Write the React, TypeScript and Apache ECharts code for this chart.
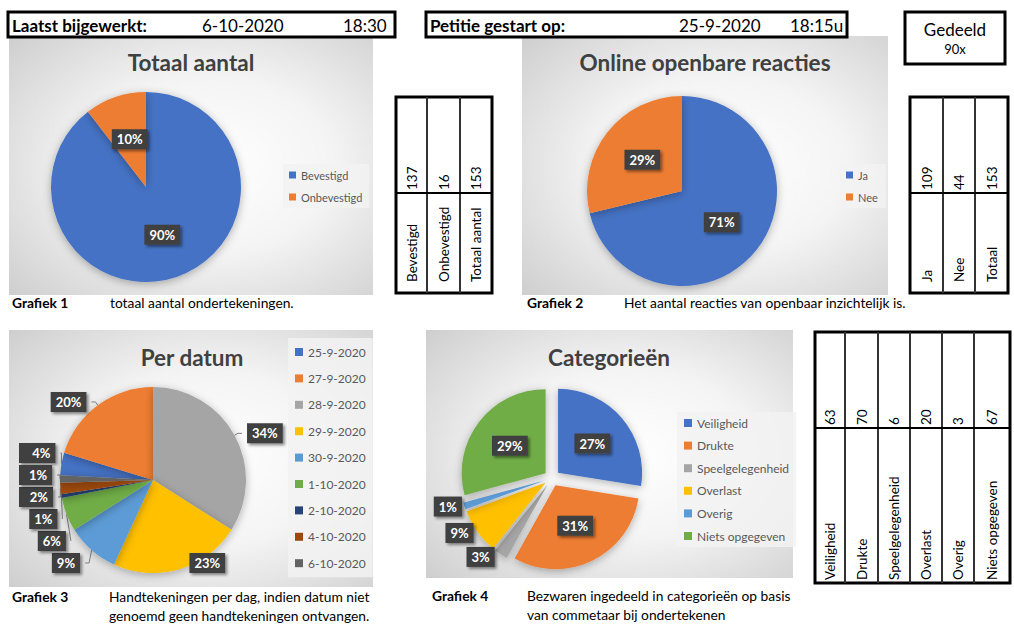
import React, { useEffect, useRef } from "react";
import * as echarts from "echarts";

const FONT = "Lato, 'Open Sans', sans-serif";

// ---- header texts ----
const updatedLabel = "Laatst bijgewerkt:";
const updatedDate = "6-10-2020";
const updatedTime = "18:30";
const startedLabel = "Petitie gestart op:";
const startedDate = "25-9-2020";
const startedTime = "18:15u";
const sharedLabel = "Gedeeld";
const sharedValue = "90x";

// ---- chart data ----
const totalNames = ["Bevestigd", "Onbevestigd"];
const totalValues = [137, 16];

const publicNames = ["Ja", "Nee"];
const publicValues = [109, 44];

const dateNames = [
  "25-9-2020", "27-9-2020", "28-9-2020", "29-9-2020", "30-9-2020",
  "1-10-2020", "2-10-2020", "4-10-2020", "6-10-2020",
];
const dateValues = [6, 31, 52, 35, 14, 9, 1, 3, 2];

const categoryNames = ["Veiligheid", "Drukte", "Speelgelegenheid", "Overlast", "Overig", "Niets opgegeven"];
const categoryValues = [63, 70, 6, 20, 3, 67];

// ---- tables ----
const table1Labels = ["Bevestigd", "Onbevestigd", "Totaal aantal"];
const table1Values = [137, 16, 153];
const table2Labels = ["Ja", "Nee", "Totaal"];
const table2Values = [109, 44, 153];
const table3Labels = categoryNames;
const table3Values = categoryValues;

// ---- titles & captions ----
const chartTitles = ["Totaal aantal", "Online openbare reacties", "Per datum", "Categorieën"];
const captionHeads = ["Grafiek 1", "Grafiek 2", "Grafiek 3", "Grafiek 4"];
const captionTexts = [
  ["totaal aantal ondertekeningen."],
  ["Het aantal reacties van openbaar inzichtelijk is."],
  ["Handtekeningen per dag, indien datum niet", "genoemd geen handtekeningen ontvangen."],
  ["Bezwaren ingedeeld in categorieën op basis", "van commetaar bij ondertekenen"],
];

const palette = ["#4472C4", "#ED7D31", "#A5A5A5", "#FFC000", "#5B9BD5", "#70AD47", "#264478", "#9E480E", "#636363"];

const bgFill = {
  type: "radial",
  x: 0.55,
  y: 0.5,
  r: 0.85,
  colorStops: [
    { offset: 0, color: "#ffffff" },
    { offset: 0.4, color: "#f4f4f4" },
    { offset: 1, color: "#c4c4c4" },
  ],
};

function txt(x: number, y: number, t: string, extra: any = {}, rotation = 0) {
  const align = extra.align || "left";
  const st: any = {
    text: t,
    fontFamily: FONT,
    fontSize: 13,
    fill: "#000",
    align,
    textAlign: align,
    verticalAlign: "middle",
    textVerticalAlign: "middle",
    ...extra,
  };
  return { type: "text", x, y, rotation, style: st, silent: true };
}

function rect(x: number, y: number, w: number, h: number, style: any) {
  return { type: "rect", shape: { x, y, width: w, height: h }, style, silent: true };
}

function line(x1: number, y1: number, x2: number, y2: number, lw = 2, color = "#000") {
  return { type: "line", shape: { x1, y1, x2, y2 }, style: { stroke: color, lineWidth: lw }, silent: true };
}

function table(
  x: number, y: number, w: number, h: number, cols: number[], splitY: number,
  labels: string[], values: number[], valueBottom: number, labelBottom: number
) {
  const els: any[] = [];
  els.push(rect(x, y, w, h, { fill: "#fff", stroke: "#000", lineWidth: 3 }));
  const bounds = [x, ...cols, x + w];
  cols.forEach((c) => els.push(line(c, y, c, y + h, 2, "#333")));
  els.push(line(x, splitY, x + w, splitY, 2, "#000"));
  labels.forEach((lab, i) => {
    const cx = (bounds[i] + bounds[i + 1]) / 2;
    els.push(txt(cx, valueBottom, String(values[i]), { fontSize: 13.5 }, Math.PI / 2));
    els.push(txt(cx, labelBottom, lab, { fontSize: 13.5 }, Math.PI / 2));
  });
  return els;
}

const pctLabel = {
  formatter: "{d}%",
  color: "#fff",
  fontFamily: FONT,
  fontWeight: "bold",
  fontSize: 13,
  backgroundColor: "#404040",
  padding: [4, 5, 3, 5],
  shadowColor: "rgba(0,0,0,0.45)",
  shadowBlur: 3,
  shadowOffsetX: 2,
  shadowOffsetY: 2,
};

const pieShadow = {
  shadowBlur: 8,
  shadowColor: "rgba(0,0,0,0.3)",
  shadowOffsetY: 2,
};

const mk = (names: string[], values: number[]) =>
  names.map((n, i) => ({ name: n, value: values[i], itemStyle: { color: palette[i] } }));

const legendBase = {
  orient: "vertical",
  icon: "rect",
  itemWidth: 7,
  itemHeight: 7,
  selectedMode: false,
  backgroundColor: "rgba(242,242,242,0.85)",
  textStyle: { fontFamily: FONT, fontSize: 11, color: "#595959", lineHeight: 12 },
};

function buildOption() {
  const graphics: any[] = [];
  // chart backgrounds
  graphics.push(rect(9, 36, 364, 259, { fill: bgFill }));
  graphics.push(rect(522, 36, 366, 259, { fill: bgFill }));
  graphics.push(rect(9, 330, 364, 257, { fill: bgFill }));
  graphics.push(rect(426, 330, 367, 248, { fill: bgFill }));

  // header boxes
  graphics.push(rect(8, 12, 387, 25, { fill: "#fff", stroke: "#000", lineWidth: 3 }));
  graphics.push(txt(12, 25, updatedLabel, { fontSize: 17, fontWeight: "bold" }));
  graphics.push(txt(202, 25, updatedDate, { fontSize: 17 }));
  graphics.push(txt(343, 25, updatedTime, { fontSize: 17 }));

  graphics.push(rect(426, 12, 421, 25, { fill: "#fff", stroke: "#000", lineWidth: 3 }));
  graphics.push(txt(430, 25, startedLabel, { fontSize: 17, fontWeight: "bold" }));
  graphics.push(txt(679, 25, startedDate, { fontSize: 17 }));
  graphics.push(txt(790, 25, startedTime, { fontSize: 17 }));

  graphics.push(rect(905, 12, 100, 52, { fill: "#fff", stroke: "#000", lineWidth: 3 }));
  graphics.push(txt(955, 29, sharedLabel, { fontSize: 17, align: "center" }));
  graphics.push(txt(955, 49, sharedValue, { fontSize: 13, align: "center" }));

  // titles
  const titlePos = [
    [191, 62],
    [705, 62],
    [192, 357],
    [609, 357],
  ];
  chartTitles.forEach((t, i) =>
    graphics.push(
      txt(titlePos[i][0], titlePos[i][1], t, { fontSize: 22.5, fontWeight: "bold", fill: "#404040", align: "center" })
    )
  );

  // tables
  graphics.push(...table(396, 97, 96, 196, [427, 460], 193, table1Labels, table1Values, 190, 282));
  graphics.push(...table(910, 97, 98, 196, [943, 975], 193, table2Labels, table2Values, 190, 282));
  graphics.push(
    ...table(815, 332, 195, 251, [845, 878, 910, 942, 974], 428, table3Labels, table3Values, 425, 580)
  );

  // captions
  const capPos = [
    [12, 110, 302],
    [527, 624, 302],
    [12, 109, 596],
    [432, 527, 595],
  ];
  captionHeads.forEach((h, i) => {
    const [hx, tx, cy] = capPos[i];
    graphics.push(txt(hx, cy, h, { fontSize: 13.8, fontWeight: "bold" }));
    captionTexts[i].forEach((line, j) => graphics.push(txt(tx, cy + j * 19, line, { fontSize: 13.8 })));
  });

  const catSum = categoryValues.reduce((a, b) => a + b, 0);

  return {
    animation: false,
    graphic: { elements: graphics },
    legend: [
      { ...legendBase, data: totalNames, left: 283, top: 164, padding: [5, 7, 5, 6], itemGap: 10 },
      { ...legendBase, data: publicNames, left: 840, top: 164, padding: [5, 8, 5, 6], itemGap: 10 },
      {
        ...legendBase,
        data: dateNames,
        left: 288,
        top: 338,
        padding: [8, 7, 8, 7],
        itemGap: 14.4,
        itemWidth: 8,
        itemHeight: 8,
        textStyle: { ...legendBase.textStyle, fontSize: 12 },
      },
      {
        ...legendBase,
        data: categoryNames,
        left: 677,
        top: 412,
        padding: [5, 7, 5, 7],
        itemGap: 10.6,
        itemWidth: 8,
        itemHeight: 8,
        textStyle: { ...legendBase.textStyle, fontSize: 12 },
      },
    ],
    series: [
      {
        type: "pie",
        center: [146, 187],
        radius: 95,
        startAngle: 90,
        percentPrecision: 0,
        data: mk(totalNames, totalValues),
        label: { ...pctLabel, position: "inside" },
        labelLine: { show: false },
        itemStyle: pieShadow,
        emphasis: { disabled: true },
      },
      {
        type: "pie",
        center: [682, 191],
        radius: 95,
        startAngle: 90,
        percentPrecision: 0,
        data: mk(publicNames, publicValues),
        label: { ...pctLabel, position: "inside" },
        labelLine: { show: false },
        itemStyle: pieShadow,
        emphasis: { disabled: true },
      },
      {
        type: "pie",
        left: 9,
        top: 372,
        width: 364,
        height: 202,
        center: [144, 108],
        radius: 93,
        startAngle: 177,
        percentPrecision: 0,
        data: mk(dateNames, dateValues),
        label: { ...pctLabel, position: "outside" },
        labelLine: { show: true, length: 4, length2: 4, lineStyle: { color: "#7f7f7f", width: 1 } },
        itemStyle: pieShadow,
        emphasis: { disabled: true },
      },
      {
        type: "pie",
        center: [552, 478],
        radius: 84,
        startAngle: 90,
        percentPrecision: 0,
        selectedMode: "multiple",
        selectedOffset: 8,
        data: categoryNames.map((n, i) => ({
          name: n,
          value: categoryValues[i],
          selected: true,
          itemStyle: { color: palette[i] },
          label: { position: categoryValues[i] / catSum < 0.1 ? "outside" : "inside" },
        })),
        label: { ...pctLabel },
        labelLine: { show: false, length: 2, length2: 0 },
        itemStyle: pieShadow,
        select: { itemStyle: { borderWidth: 0 } },
        emphasis: { disabled: true },
      },
    ],
  };
}

export default function App() {
  const ref = useRef<HTMLDivElement>(null);
  useEffect(() => {
    if (!ref.current) return;
    const chart = echarts.init(ref.current, null, { renderer: "svg" });
    chart.setOption(buildOption() as any);
    return () => chart.dispose();
  }, []);
  return (
    <div
      ref={ref}
      style={{ position: "fixed", left: 0, top: 0, width: 1014, height: 642, background: "#fff" }}
    />
  );
}
